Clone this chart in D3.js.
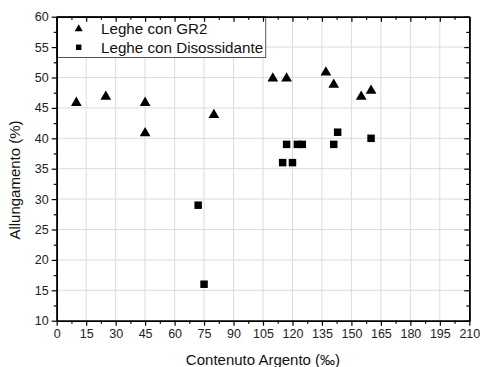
<!DOCTYPE html>
<html>
<head>
<meta charset="utf-8">
<script src="https://cdn.jsdelivr.net/npm/d3@7"></script>
<style>
html,body{margin:0;padding:0;background:#fff;}
svg{display:block;font-family:"Liberation Sans",Arial,sans-serif;}
</style>
</head>
<body>
<svg id="chart" width="480" height="367"></svg>
<script>
const seriesNames = ["Leghe con GR2", "Leghe con Disossidante"];
const gr2X = [10, 25, 45, 45, 80, 110, 117, 137, 141, 155, 160];
const gr2Y = [46, 47, 46, 41, 44, 50, 50, 51, 49, 47, 48];
const disX = [72, 75, 115, 117, 120, 122.5, 125, 141, 143, 160];
const disY = [29, 16, 36, 39, 36, 39, 39, 39, 41, 40];
const xTicks = [0, 15, 30, 45, 60, 75, 90, 105, 120, 135, 150, 165, 180, 195, 210];
const yTicks = [10, 15, 20, 25, 30, 35, 40, 45, 50, 55, 60];
const xTitle = "Contenuto Argento (‰)";
const yTitle = "Allungamento (%)";

const W = 480, H = 367;
const m = {left: 56.7, top: 16.7, right: 10.7, bottom: 46.3};
const svg = d3.select("#chart");
const x = d3.scaleLinear().domain([0, 210]).range([m.left, W - m.right]);
const y = d3.scaleLinear().domain([10, 60]).range([H - m.bottom, m.top]);

const xMinor = d3.range(0, 211, 7.5).filter(v => !xTicks.includes(v));
const yMinor = d3.range(10, 60.1, 2.5).filter(v => !yTicks.includes(v));

// grid
const grid = svg.append("g");
grid.selectAll(".gx").data(xTicks.slice(1, -1)).join("line")
  .attr("x1", d => x(d)).attr("x2", d => x(d))
  .attr("y1", y(10)).attr("y2", y(60))
  .attr("stroke", "#dcdcdc").attr("stroke-width", 1);
grid.selectAll(".gy").data(yTicks.slice(1, -1)).join("line")
  .attr("y1", d => y(d)).attr("y2", d => y(d))
  .attr("x1", x(0)).attr("x2", x(210))
  .attr("stroke", "#dcdcdc").attr("stroke-width", 1);

const triSym = d3.symbol().type(d3.symbolTriangle).size(50);
const sqSym = d3.symbol().type(d3.symbolSquare).size(56);

// points
svg.append("g").selectAll("path").data(gr2X.map((v, i) => [v, gr2Y[i]])).join("path")
  .attr("d", triSym).attr("fill", "#000")
  .attr("transform", d => `translate(${x(d[0])},${y(d[1]) + 1})`);
svg.append("g").selectAll("path").data(disX.map((v, i) => [v, disY[i]])).join("path")
  .attr("d", sqSym).attr("fill", "#000")
  .attr("transform", d => `translate(${x(d[0])},${y(d[1])})`);

// legend
const leg = svg.append("g");
leg.append("rect").attr("x", x(0)).attr("y", y(60))
  .attr("width", 209).attr("height", 40.8)
  .attr("fill", "#fff").attr("stroke", "#555").attr("stroke-width", 1);
leg.append("path").attr("d", d3.symbol().type(d3.symbolTriangle).size(28))
  .attr("transform", "translate(78.7,29)").attr("fill", "#000");
leg.append("path").attr("d", d3.symbol().type(d3.symbolSquare).size(30))
  .attr("transform", "translate(78.7,47.3)").attr("fill", "#000");
leg.selectAll("text").data(seriesNames).join("text")
  .attr("x", 101).attr("y", (d, i) => 28.3 + i * 19 + 5.3)
  .attr("font-size", 15.2).attr("fill", "#111").text(d => d);

// axes
function styleAxis(g) {
  g.select(".domain").attr("stroke", "#000").attr("stroke-width", 1.6);
  g.selectAll(".tick line").attr("stroke", "#000").attr("stroke-width", 1.2);
  g.selectAll("text").attr("font-size", 12.5).attr("fill", "#222")
    .attr("font-family", "'Liberation Sans', Arial, sans-serif");
}
// bottom
svg.append("g").attr("transform", `translate(0,${y(10)})`)
  .call(d3.axisBottom(x).tickValues(xMinor).tickSize(3).tickFormat("").tickSizeOuter(0)).call(styleAxis);
svg.append("g").attr("transform", `translate(0,${y(10)})`)
  .call(d3.axisBottom(x).tickValues(xTicks).tickSize(5).tickPadding(3).tickSizeOuter(0)).call(styleAxis);
// top
svg.append("g").attr("transform", `translate(0,${y(60)})`)
  .call(d3.axisTop(x).tickValues(xMinor).tickSize(-3).tickFormat("").tickSizeOuter(0)).call(styleAxis);
svg.append("g").attr("transform", `translate(0,${y(60)})`)
  .call(d3.axisTop(x).tickValues(xTicks).tickSize(-5).tickFormat("").tickSizeOuter(0)).call(styleAxis);
// left
svg.append("g").attr("transform", `translate(${x(0)},0)`)
  .call(d3.axisLeft(y).tickValues(yMinor).tickSize(3).tickFormat("").tickSizeOuter(0)).call(styleAxis);
svg.append("g").attr("transform", `translate(${x(0)},0)`)
  .call(d3.axisLeft(y).tickValues(yTicks).tickSize(5).tickPadding(3).tickSizeOuter(0)).call(styleAxis);
// right
svg.append("g").attr("transform", `translate(${x(210)},0)`)
  .call(d3.axisRight(y).tickValues(yMinor).tickSize(-3).tickFormat("").tickSizeOuter(0)).call(styleAxis);
svg.append("g").attr("transform", `translate(${x(210)},0)`)
  .call(d3.axisRight(y).tickValues(yTicks).tickSize(-5).tickFormat("").tickSizeOuter(0)).call(styleAxis);

// titles
svg.append("text").attr("x", (x(0) + x(210)) / 2).attr("y", 365)
  .attr("text-anchor", "middle").attr("font-size", 15).attr("fill", "#111").text(xTitle);
svg.append("text").attr("transform", "translate(20,180) rotate(-90)")
  .attr("text-anchor", "middle").attr("font-size", 15).attr("fill", "#111").text(yTitle);
</script>
</body>
</html>
